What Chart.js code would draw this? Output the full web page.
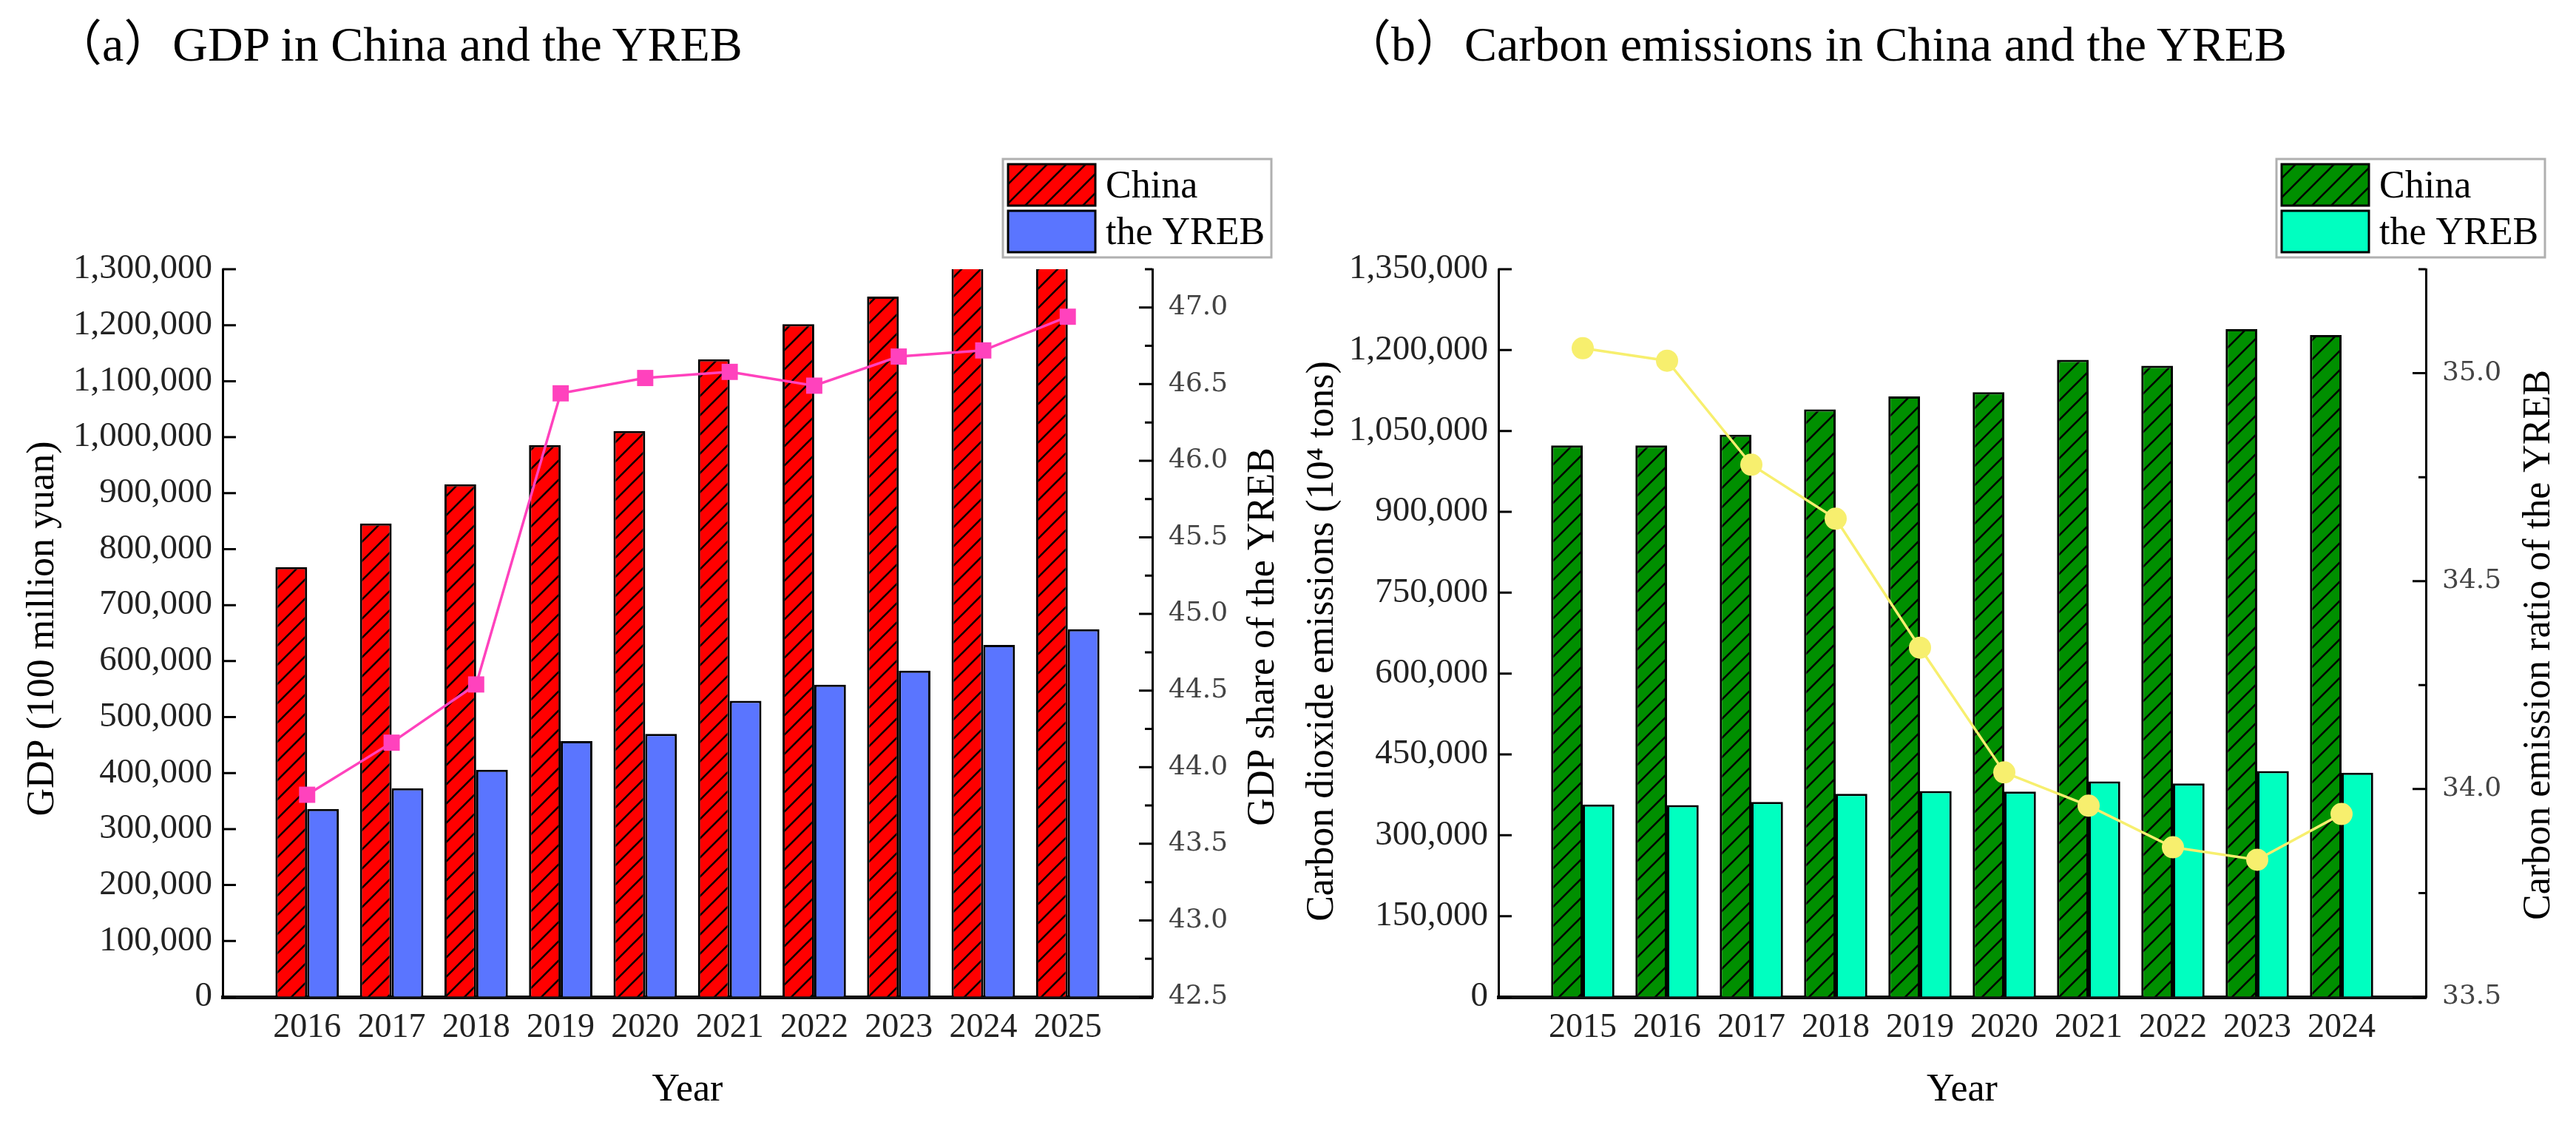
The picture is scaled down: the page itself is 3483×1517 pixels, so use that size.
<!DOCTYPE html>
<html lang="en">
<head>
  <meta charset="UTF-8" />
  <title>GDP and carbon emissions in China and the YREB</title>
  <style>
    body { margin: 0; background: #fff; }
    .box { position: absolute; top: 0; }
    .ttl {
      position: absolute;
      top: 27px;
      font: 66px "Liberation Serif", "Noto Sans CJK SC", serif;
      line-height: 66px;
      color: #000;
      white-space: nowrap;
    }
  </style>
  <script src="https://cdn.jsdelivr.net/npm/chart.js"></script>
</head>
<body>
  <div class="ttl" style="left:72px">（a）GDP in China and the YREB</div>
  <div class="ttl" style="left:1815px">（b）Carbon emissions in China and the YREB</div>
  <div class="box" style="left:0"><canvas id="chartA" width="1740" height="1517"></canvas></div>
  <div class="box" style="left:1740px"><canvas id="chartB" width="1743" height="1517"></canvas></div>
</body>
</html>
<script>
  // (a) GDP, 100 million yuan
  const gdpYears = [2016, 2017, 2018, 2019, 2020, 2021, 2022, 2023, 2024, 2025]
  const gdpChina = [768000, 846000, 916000, 986000, 1011000, 1139000, 1202000, 1251000, 1349000, 1402000]
  const gdpYreb = [336000, 373000, 406000, 457000, 470000, 529000, 558000, 583000, 629000, 657000]
  const gdpShare = [43.82, 44.16, 44.54, 46.44, 46.54, 46.58, 46.49, 46.68, 46.72, 46.94]

  // (b) carbon dioxide emissions, 10^4 tons
  const co2Years = [2015, 2016, 2017, 2018, 2019, 2020, 2021, 2022, 2023, 2024]
  const co2China = [1023000, 1023000, 1043000, 1090000, 1114000, 1122000, 1182000, 1171000, 1239000, 1228000]
  const co2Yreb = [357000, 356000, 362000, 377000, 382000, 381000, 400000, 396000, 419000, 416000]
  const co2Ratio = [35.06, 35.03, 34.78, 34.65, 34.34, 34.04, 33.96, 33.86, 33.83, 33.94]

  const serif = '"Liberation Serif", "Times New Roman", serif'

  function hatch(color) {
    const s = 26
    const c = document.createElement('canvas')
    c.width = s; c.height = s
    const g = c.getContext('2d')
    g.fillStyle = color
    g.fillRect(0, 0, s, s)
    g.strokeStyle = '#000'
    g.lineWidth = 2.6
    g.beginPath()
    g.moveTo(-3, s + 3); g.lineTo(s + 3, -3)
    g.moveTo(-3, 3); g.lineTo(3, -3)
    g.moveTo(s - 3, s + 3); g.lineTo(s + 3, s - 3)
    g.stroke()
    return g.createPattern(c, 'repeat')
  }

  const pts = (xs, ys) => xs.map((x, i) => ({ x: x, y: ys[i] }))

  // inward tick marks on both y axes (long = labelled, short = minor)
  const innerTicks = {
    id: 'innerTicks',
    afterDraw(chart) {
      const ctx = chart.ctx
      ctx.save()
      ctx.strokeStyle = '#000'
      ctx.lineWidth = 3
      ctx.beginPath()
      for (const id of ['y', 'y1']) {
        const s = chart.scales[id]
        const left = s.position === 'left'
        const x0 = left ? s.right : s.left
        s.ticks.forEach((t, i) => {
          const py = s.getPixelForTick(i)
          const len = t.label === '' ? 10 : 18
          ctx.moveTo(x0, py)
          ctx.lineTo(x0 + (left ? len : -len), py)
        })
      }
      ctx.stroke()
      ctx.restore()
    }
  }

  // framed legend for the two bar series
  const barLegend = {
    id: 'barLegend',
    afterDraw(chart) {
      const { ctx, chartArea } = chart
      const x = chartArea.right - 202, y = 215
      ctx.save()
      ctx.strokeStyle = '#b0b0b0'
      ctx.lineWidth = 3
      ctx.strokeRect(x, y, 363, 133)
      chart.data.datasets.filter(d => d.type === 'bar').forEach((d, i) => {
        const sy = y + 7 + i * 63
        ctx.fillStyle = d.backgroundColor
        ctx.fillRect(x + 7, sy, 118, 56)
        ctx.strokeStyle = '#000'
        ctx.strokeRect(x + 7, sy, 118, 56)
        ctx.fillStyle = '#000'
        ctx.font = '52px ' + serif
        ctx.textBaseline = 'alphabetic'
        ctx.textAlign = 'left'
        ctx.fillText(d.label, x + 139, sy + 45)
      })
      ctx.restore()
    }
  }

  // axis titles, both y titles read bottom-to-top
  const axisTitles = {
    id: 'axisTitles',
    afterDraw(chart, args, opts) {
      const { ctx, chartArea } = chart
      ctx.save()
      ctx.fillStyle = '#000'
      ctx.textAlign = 'center'
      ctx.textBaseline = 'alphabetic'
      ctx.font = '52px ' + serif
      for (const t of [opts.left, opts.right]) {
        ctx.save()
        ctx.translate(t.x, t.y)
        ctx.rotate(-Math.PI / 2)
        ctx.fillText(t.text, 0, 0)
        ctx.restore()
      }
      ctx.fillText('Year', (chartArea.left + chartArea.right) / 2, 1488)
      ctx.restore()
    }
  }

  function makeChart(el, cfg) {
    const yTickFont = { family: serif, size: 47 }
    return new Chart(el, {
      type: 'bar',
      data: {
        datasets: [{
          type: 'line',
          label: cfg.lineLabel,
          data: pts(cfg.years, cfg.line),
          yAxisID: 'y1',
          order: 0,
          borderColor: cfg.lineColor,
          backgroundColor: cfg.lineColor,
          borderWidth: 3.5,
          pointStyle: cfg.pointStyle,
          pointRadius: cfg.pointRadius,
          pointBorderWidth: 0,
          tension: 0,
          clip: false
        }, {
          type: 'bar',
          label: 'China',
          data: pts(cfg.years, cfg.china),
          yAxisID: 'y',
          order: 1,
          backgroundColor: hatch(cfg.chinaColor),
          borderColor: '#000',
          borderWidth: 3,
          categoryPercentage: 0.75,
          barPercentage: 1,
          clip: 0
        }, {
          type: 'bar',
          label: 'the YREB',
          data: pts(cfg.years, cfg.yreb),
          yAxisID: 'y',
          order: 2,
          backgroundColor: cfg.yrebColor,
          borderColor: '#000',
          borderWidth: 3,
          categoryPercentage: 0.75,
          barPercentage: 1,
          clip: 0
        }]
      },
      options: {
        responsive: false,
        devicePixelRatio: 1,
        animation: false,
        layout: { padding: { top: 364, left: 0, right: 0, bottom: 0 } },
        plugins: {
          legend: { display: false },
          tooltip: { enabled: false },
          axisTitles: cfg.titles
        },
        scales: {
          x: {
            type: 'linear',
            offset: false,
            min: cfg.years[0] - 1,
            max: cfg.years[cfg.years.length - 1] + 1,
            grid: { display: true, drawOnChartArea: false, drawTicks: false, offset: false },
            border: { display: true, color: '#111', width: 5 },
            ticks: {
              stepSize: 1,
              autoSkip: false,
              maxRotation: 0,
              padding: 14,
              color: '#222',
              font: { family: serif, size: 46 },
              callback: v => (v >= cfg.years[0] && v <= cfg.years[cfg.years.length - 1]) ? String(v) : ''
            },
            afterFit: s => { s.height = 169 }
          },
          y: {
            position: 'left',
            min: 0,
            max: cfg.yMax,
            grid: { display: true, drawOnChartArea: false, drawTicks: false },
            border: { display: true, color: '#000', width: 3 },
            ticks: {
              stepSize: cfg.yStep,
              autoSkip: false,
              padding: 14,
              color: '#222',
              font: yTickFont,
              callback: v => v.toLocaleString('en-US')
            },
            afterFit: s => { s.width = cfg.leftW }
          },
          y1: {
            position: 'right',
            min: cfg.rMin,
            max: cfg.rMax,
            grid: { display: true, drawOnChartArea: false, drawTicks: false },
            border: { display: true, color: '#000', width: 3 },
            ticks: {
              stepSize: 0.25,
              autoSkip: false,
              padding: 22,
              color: '#444',
              font: { family: '"DejaVu Serif", serif', size: 36 },
              callback: v => Math.abs(v * 2 - Math.round(v * 2)) < 1e-6 ? v.toFixed(1) : ''
            },
            afterFit: s => { s.width = cfg.rightW }
          }
        }
      },
      plugins: [innerTicks, barLegend, axisTitles]
    })
  }

  window.addEventListener('load', () => {
    makeChart(document.querySelector('#chartA'), {
      years: gdpYears, china: gdpChina, yreb: gdpYreb, line: gdpShare,
      lineLabel: 'GDP share of the YREB',
      chinaColor: '#ff0000', yrebColor: '#5a75ff',
      lineColor: '#ff42bd', pointStyle: 'rect', pointRadius: 15.5,
      yMax: 1300000, yStep: 100000, rMin: 42.5, rMax: 47.25,
      leftW: 301, rightW: 182,
      titles: {
        left: { text: 'GDP (100 million yuan)', x: 72, y: 850 },
        right: { text: 'GDP share of the YREB', x: 1722, y: 861 }
      }
    })
    makeChart(document.querySelector('#chartB'), {
      years: co2Years, china: co2China, yreb: co2Yreb, line: co2Ratio,
      lineLabel: 'Carbon emission ratio of the YREB',
      chinaColor: '#008f00', yrebColor: '#00ffc0',
      lineColor: '#f7ef6e', pointStyle: 'circle', pointRadius: 15,
      yMax: 1350000, yStep: 150000, rMin: 33.5, rMax: 35.25,
      leftW: 286, rightW: 203,
      titles: {
        left: { text: 'Carbon dioxide emissions (10⁴ tons)', x: 62, y: 867 },
        right: { text: 'Carbon emission ratio of the YREB', x: 1707, y: 872 }
      }
    })
  })
</script>
